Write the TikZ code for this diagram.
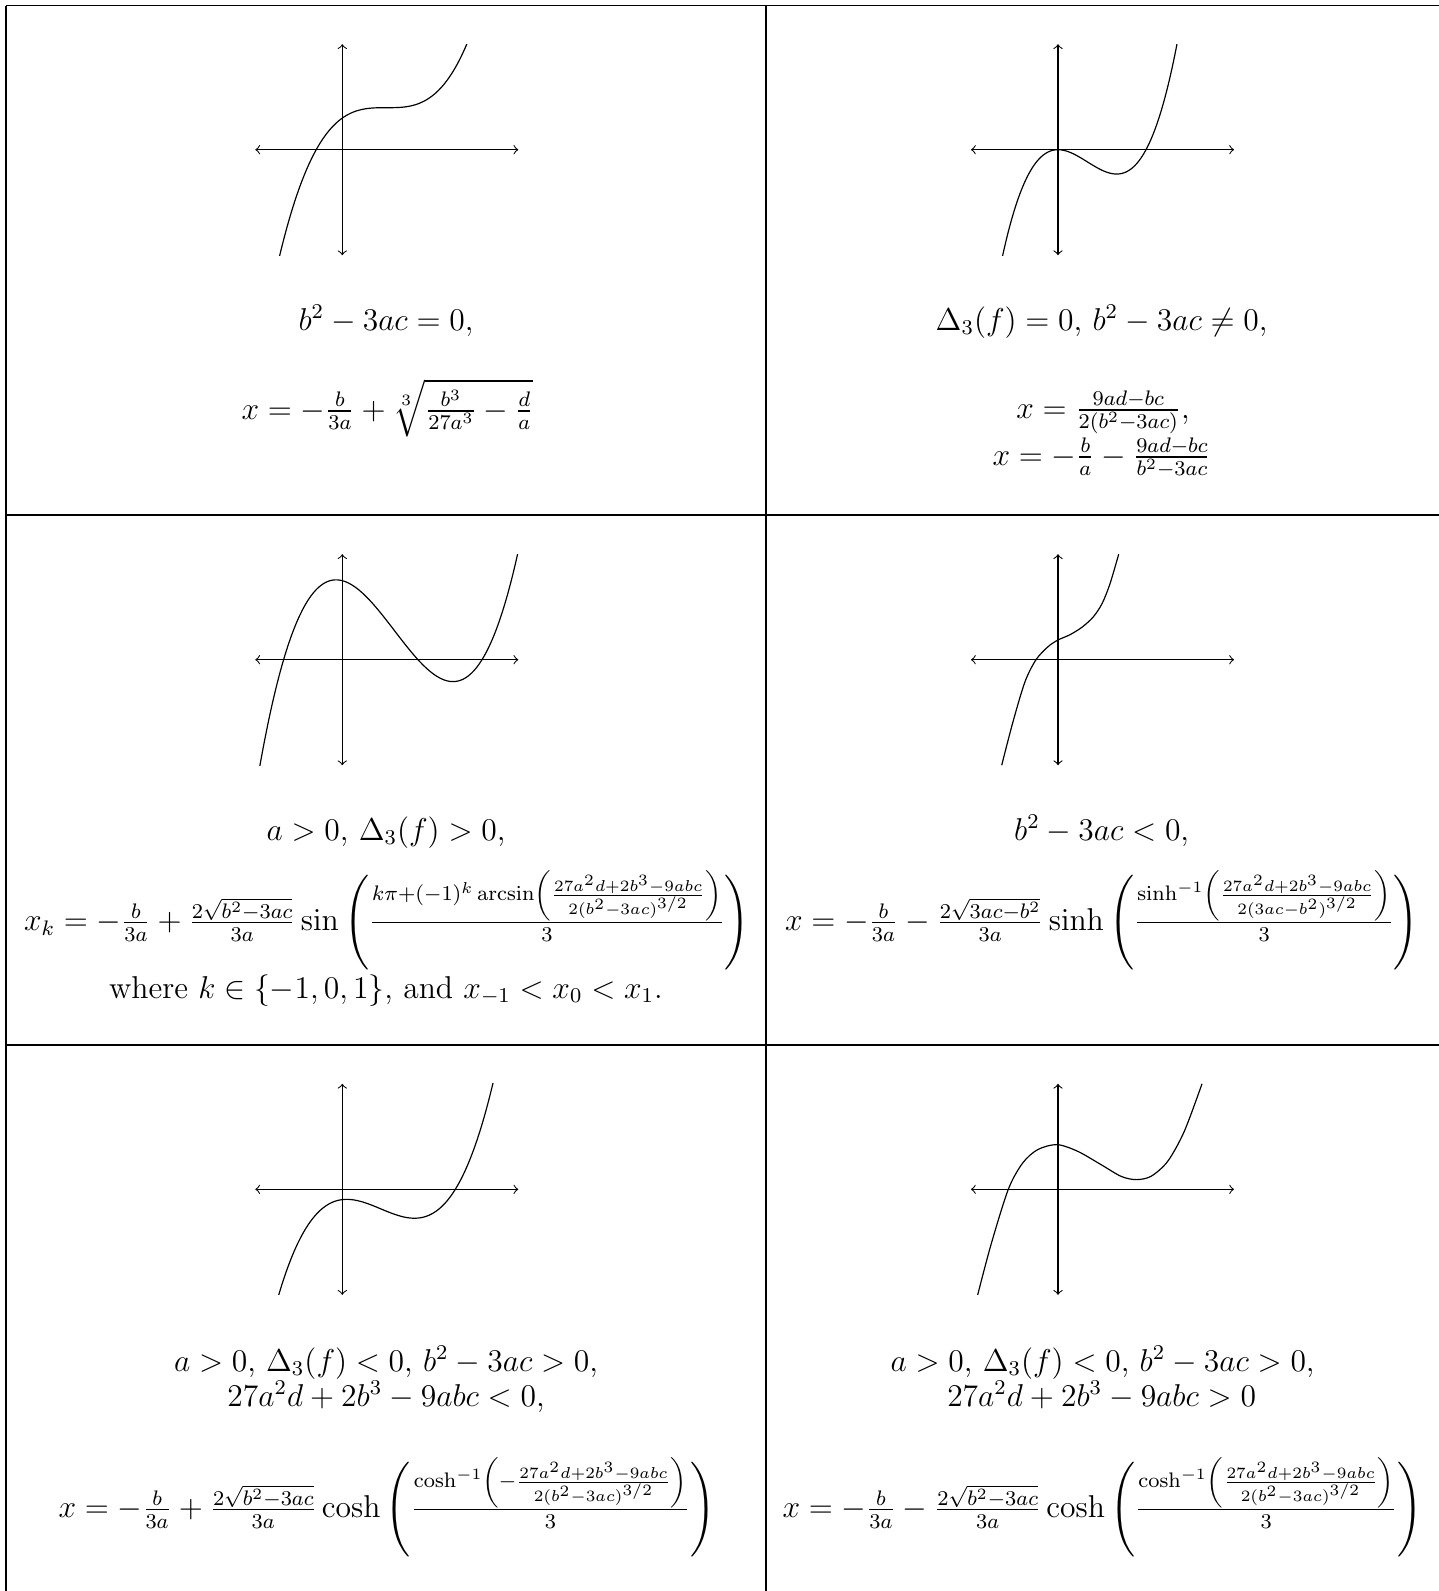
\documentclass[tikz,border=0pt]{standalone}
\usepackage{amsmath}
\begin{document}
\begin{tikzpicture}[x=0.380pt,y=-0.380pt,
  gridline/.style={line width=0.4pt, black},
  axisline/.style={<->, line width=0.4pt},
  curveline/.style={line width=0.45pt},
  txt/.style={inner sep=0pt, anchor=base, font=\fontsize{12}{14.5}\selectfont},
  fml/.style={inner sep=0pt, anchor=center, font=\fontsize{12}{14.5}\selectfont}]
\useasboundingbox (0,0) rectangle (1438,1591);
% table rules
\draw[gridline] (6,5.7) -- (1442,5.7);
\draw[gridline] (6,515) -- (1442,515);
\draw[gridline] (6,1045) -- (1442,1045);
\draw[gridline] (6,5.7) -- (6,1595);
\draw[gridline] (766,5.7) -- (766,1595);
% axes
\foreach \ox/\oy in {342.3/149.7, 1058/149.7, 342.3/659.7, 1058/659.7, 342.3/1189.3, 1058/1189.3}{
  \draw[axisline] (\ox-87,\oy) -- (\ox+176,\oy);
  \draw[axisline] (\ox,\oy-105.5) -- (\ox,\oy+105.5);
}
% curves
\begin{scope}[shift={(342.3,149.7)}, yscale=-1]
  \clip (-100,-105.5) rectangle (200,105.5);
  \draw[curveline] plot[domain=-0.7:1.3, samples=120, smooth] ({100*\x},{122*(\x-0.44)*(\x-0.44)*(\x-0.44)+42});
\end{scope}
\begin{scope}[shift={(1058,149.7)}, yscale=-1]
  \clip (-100,-105.5) rectangle (200,105.5);
  \draw[curveline] plot[domain=-0.6:1.25, samples=120, smooth] ({100*\x},{241*\x*\x*(\x-0.88)});
\end{scope}
\begin{scope}[shift={(342.3,659.7)}, yscale=-1]
  \clip (-100,-105.5) rectangle (200,105.5);
  \draw[curveline] plot[domain=-0.9:1.85, samples=150, smooth] ({100*\x},{127.3*(\x+0.587)*(\x-0.757)*(\x-1.397)});
\end{scope}
\begin{scope}[shift={(1058,659.7)}, yscale=-1]
  \draw[curveline] plot[smooth] coordinates {(-56.3,-105.5) (-45,-62) (-33,-22) (-22,0) (-10,13) (0,19.7) (12,25) (24,32.5) (35,42.5) (44,56) (52,76) (60.7,105.5)};
\end{scope}
\begin{scope}[shift={(342.3,1189.3)}, yscale=-1]
  \clip (-100,-105.5) rectangle (200,105.5);
  \draw[curveline] plot[domain=-0.75:1.6, samples=150, smooth] ({100*\x},{121.69*\x*\x*\x-139.87*\x*\x+11.78*\x-10.3});
\end{scope}
\begin{scope}[shift={(1058,1189.3)}, yscale=-1]
  \draw[curveline] plot[smooth] coordinates {(-80.3,-105.5) (-67,-55.3) (-49.7,0) (-35.3,26.3) (-20.3,39.7) (-1,44.7) (19.7,38) (43,24.7) (63,13) (78,9.7) (93,13) (109.7,28) (126.3,58) (144,105.5)};
\end{scope}
% cell 1
\node[txt] (c1a) at (386,330) {$b^2-3ac=0,$};
\node[txt] (c1b) at (387.5,419) {$x=-\frac{b}{3a}+\sqrt[3]{\frac{b^3}{27a^3}-\frac{d}{a}}$};
% cell 2
\node[txt] (c2a) at (1101.6,330) {$\Delta_3(f)=0$, $b^2-3ac\neq 0$,};
\node[txt] (c2b) at (1103,418) {$x=\frac{9ad-bc}{2(b^2-3ac)}$,};
\node[txt] (c2c) at (1101.6,465) {$x=-\frac{b}{a}-\frac{9ad-bc}{b^2-3ac}$};
% cell 3
\node[txt] (c3a) at (386,840) {$a>0$, $\Delta_3(f)>0$,};
\node[fml] (c3b) at (387,920) {$x_k=-\frac{b}{3a}+\frac{2\sqrt{b^2-3ac}}{3a}\sin\left(\frac{k\pi+(-1)^k\arcsin\left(\frac{27a^2d+2b^3-9abc}{2(b^2-3ac)^{3/2}}\right)}{3}\right)$};
\node[txt] (c3c) at (386,998) {where $k\in\{-1,0,1\}$, and $x_{-1}<x_0<x_1$.};
% cell 4
\node[txt] (c4a) at (1101.6,840) {$b^2-3ac<0$,};
\node[fml] (c4b) at (1102,920) {$x=-\frac{b}{3a}-\frac{2\sqrt{3ac-b^2}}{3a}\sinh\left(\frac{\sinh^{-1}\left(\frac{27a^2d+2b^3-9abc}{2(3ac-b^2)^{3/2}}\right)}{3}\right)$};
% cell 5
\node[txt] (c5a) at (386,1371) {$a>0$, $\Delta_3(f)<0$, $b^2-3ac>0$,};
\node[txt] (c5b) at (386,1406) {$27a^2d+2b^3-9abc<0$,};
\node[fml] (c5c) at (387,1507) {$x=-\frac{b}{3a}+\frac{2\sqrt{b^2-3ac}}{3a}\cosh\left(\frac{\cosh^{-1}\left(-\frac{27a^2d+2b^3-9abc}{2(b^2-3ac)^{3/2}}\right)}{3}\right)$};
% cell 6
\node[txt] (c6a) at (1102.6,1371) {$a>0$, $\Delta_3(f)<0$, $b^2-3ac>0$,};
\node[txt] (c6b) at (1101.6,1406) {$27a^2d+2b^3-9abc>0$};
\node[fml] (c6c) at (1102.5,1507) {$x=-\frac{b}{3a}-\frac{2\sqrt{b^2-3ac}}{3a}\cosh\left(\frac{\cosh^{-1}\left(\frac{27a^2d+2b^3-9abc}{2(b^2-3ac)^{3/2}}\right)}{3}\right)$};
\end{tikzpicture}
\end{document}
